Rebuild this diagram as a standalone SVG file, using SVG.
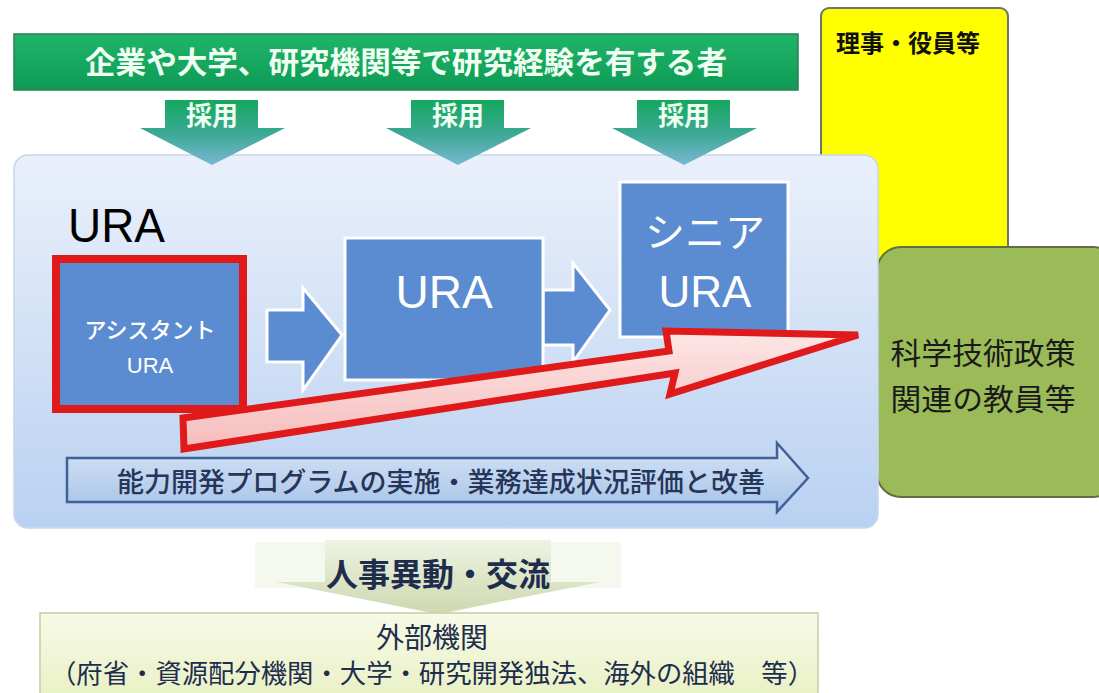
<svg xmlns="http://www.w3.org/2000/svg" width="1099" height="693" viewBox="0 0 1099 693">
<defs>
<linearGradient id="gMain" x1="0" y1="0" x2="0" y2="1"><stop offset="0" stop-color="#eaf0fb"/><stop offset="1" stop-color="#b9d1f1"/></linearGradient>
<linearGradient id="gBanner" x1="0" y1="0" x2="0" y2="1"><stop offset="0" stop-color="#1fb569"/><stop offset="1" stop-color="#0f9a55"/></linearGradient>
<linearGradient id="gDown" x1="0" y1="0" x2="0" y2="1"><stop offset="0" stop-color="#15a85e"/><stop offset="0.5" stop-color="#3aa893"/><stop offset="1" stop-color="#79b8d2"/></linearGradient>
<linearGradient id="gPink" x1="0" y1="0" x2="0" y2="1"><stop offset="0" stop-color="#fde6e6"/><stop offset="1" stop-color="#f6bcbc"/></linearGradient>
<linearGradient id="gProg" x1="0" y1="0" x2="0" y2="1"><stop offset="0" stop-color="#d6e4f6"/><stop offset="1" stop-color="#a7c3e8"/></linearGradient>
<linearGradient id="gHR" x1="0" y1="0" x2="0" y2="1"><stop offset="0" stop-color="#eef3e2"/><stop offset="1" stop-color="#cdd9b0"/></linearGradient>
<linearGradient id="gExt" x1="0" y1="0" x2="0" y2="1"><stop offset="0" stop-color="#f7fae6"/><stop offset="1" stop-color="#e9f1c6"/></linearGradient>
<style>
.jp{font-family:"Noto Sans CJK JP","Noto Sans CJK SC",sans-serif;}
.lat{font-family:"Liberation Sans","Noto Sans CJK JP",sans-serif;}
.blue{fill:#5b8cd1;stroke:#ffffff;stroke-width:3;}
</style>
</defs>

<g id="yellow-box">
<rect x="821" y="8" width="187" height="260" rx="8" fill="#ffff00" stroke="#6b7568" stroke-width="2"/>
<text x="836" y="52" class="jp" font-size="24" font-weight="bold" fill="#111">理事・役員等</text>
</g>

<g id="green-box">
<rect x="877" y="247" width="240" height="250" rx="24" fill="#9bbb59" stroke="#5f6f45" stroke-width="2"/>
<text x="983" y="364" class="jp" font-size="30" fill="#1a1a1a" text-anchor="middle" textLength="185" lengthAdjust="spacingAndGlyphs">科学技術政策</text>
<text x="983" y="410" class="jp" font-size="30" fill="#1a1a1a" text-anchor="middle" textLength="185" lengthAdjust="spacingAndGlyphs">関連の教員等</text>
</g>

<g id="banner">
<rect x="14" y="34" width="784" height="56" fill="url(#gBanner)" stroke="#2e7f55" stroke-width="1.5"/>
<text x="406" y="73" class="jp" font-size="30" font-weight="bold" fill="#effff2" text-anchor="middle" textLength="642" lengthAdjust="spacingAndGlyphs">企業や大学、研究機関等で研究経験を有する者</text>
</g>

<g id="main-box">
<rect x="14" y="155" width="864" height="373" rx="14" fill="url(#gMain)" stroke="#c8d6ea" stroke-width="1.5"/>
<text x="68" y="242" class="lat" font-size="48" fill="#000" textLength="97" lengthAdjust="spacingAndGlyphs">URA</text>
</g>

<g id="connectors">
<g id="hire-arrows">
<polygon points="165,100 258,100 258,128 285,128 212,165 140,128 165,128" fill="url(#gDown)"/>
<polygon points="411,100 504,100 504,128 531,128 458,165 386,128 411,128" fill="url(#gDown)"/>
<polygon points="637,100 730,100 730,128 757,128 684,165 612,128 637,128" fill="url(#gDown)"/>
<text x="212" y="125" class="jp" font-size="26" font-weight="bold" fill="#eefff0" text-anchor="middle">採用</text>
<text x="458" y="125" class="jp" font-size="26" font-weight="bold" fill="#eefff0" text-anchor="middle">採用</text>
<text x="684" y="125" class="jp" font-size="26" font-weight="bold" fill="#eefff0" text-anchor="middle">採用</text>
</g>
<polygon class="blue" points="267,310 303,310 303,288 342,335 303,390 303,362 267,362"/>
<polygon class="blue" points="543,290 573,290 573,263 610,310 573,362 573,345 543,345"/>
</g>

<g id="node-ura">
<rect x="345" y="238" width="198" height="142" class="blue"/>
<text x="444" y="308" class="lat" font-size="46" fill="#fff" text-anchor="middle">URA</text>
</g>

<g id="node-senior">
<rect x="620" y="182" width="168" height="155" class="blue"/>
<text x="705" y="247" class="jp" font-size="40" fill="#fff" text-anchor="middle">シニア</text>
<text x="705" y="307" class="lat" font-size="44" fill="#fff" text-anchor="middle">URA</text>
</g>

<g id="red-arrow">
<polygon points="183,418 669,351 666,331 858,335 670,394 675,373 184,449" fill="url(#gPink)" stroke="#e0191b" stroke-width="7" stroke-linejoin="miter"/>
</g>

<g id="node-assistant">
<rect x="56" y="259" width="187" height="150" fill="#5b8cd1" stroke="#e0191b" stroke-width="8"/>
<text x="150" y="338" class="jp" font-size="22" font-weight="500" fill="#fff" text-anchor="middle">アシスタント</text>
<text x="150" y="373" class="lat" font-size="22" fill="#fff" text-anchor="middle">URA</text>
</g>

<g id="program-arrow">
<polygon points="67,458 777,458 777,443 808,478 777,512 777,502 67,502" fill="url(#gProg)" stroke="#3f6296" stroke-width="2.5"/>
<text x="441" y="492" class="jp" font-size="27" font-weight="500" fill="#26365a" text-anchor="middle" textLength="648" lengthAdjust="spacingAndGlyphs">能力開発プログラムの実施・業務達成状況評価と改善</text>
</g>

<g id="hr-arrow">
<polygon points="255,542 621,542 621,588 555,588 438,616 321,588 255,588" fill="#f3f6ea" opacity="0.8"/>
<polygon points="325,540 551,540 551,582 600,582 438,614 276,582 325,582" fill="url(#gHR)"/>
<text x="438" y="586" class="jp" font-size="32" font-weight="bold" fill="#1f2d4d" text-anchor="middle">人事異動・交流</text>
</g>

<g id="external">
<rect x="40" y="613" width="778" height="84" fill="url(#gExt)" stroke="#c9cba6" stroke-width="1.5"/>
<text x="432" y="648" class="jp" font-size="28" fill="#1f2d4d" text-anchor="middle">外部機関</text>
<text x="432" y="683" class="jp" font-size="26" fill="#1f2d4d" text-anchor="middle" textLength="764" lengthAdjust="spacingAndGlyphs">（府省・資源配分機関・大学・研究開発独法、海外の組織　等）</text>
</g>
</svg>
